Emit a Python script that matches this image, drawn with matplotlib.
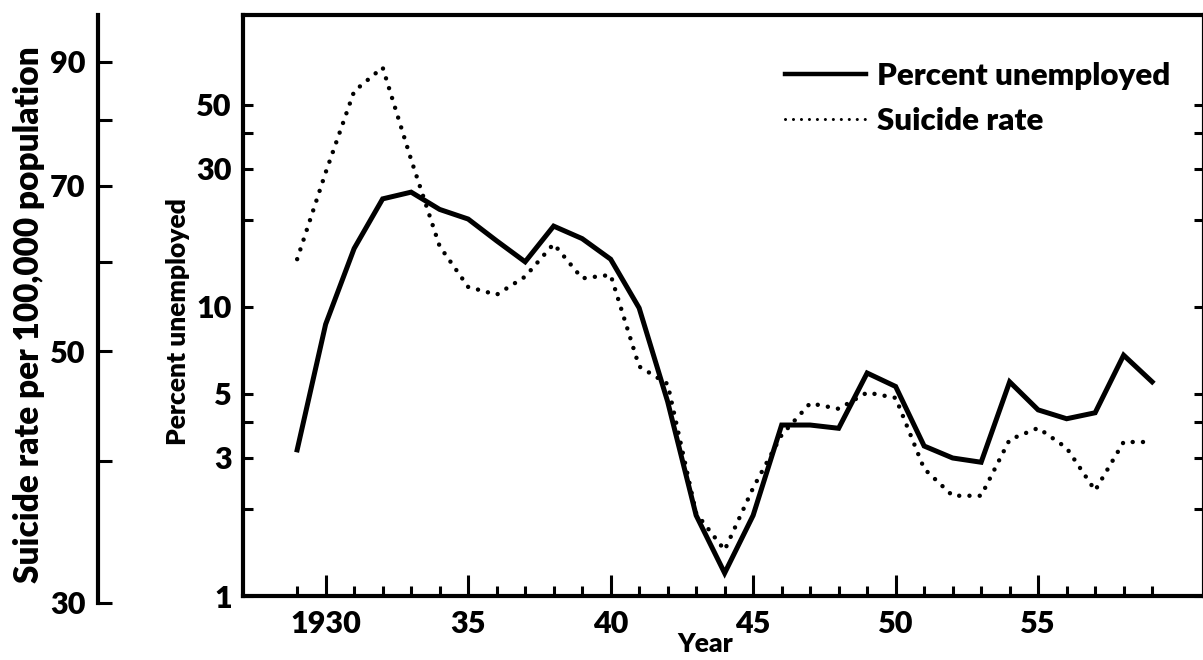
import matplotlib.pyplot as plt
from matplotlib.ticker import FixedLocator, NullFormatter
from matplotlib.lines import Line2D

years = list(range(1929, 1960))
unemployed = [3.2, 8.7, 15.9, 23.6, 24.9, 21.7, 20.1, 16.9, 14.3, 19.0,
              17.2, 14.6, 9.9, 4.7, 1.9, 1.2, 1.9, 3.9, 3.9, 3.8,
              5.9, 5.3, 3.3, 3.0, 2.9, 5.5, 4.4, 4.1, 4.3, 6.8, 5.5]
suicide = [60.3, 71.9, 84.8, 89.0, 73.8, 61.9, 57.0, 56.1, 58.2, 62.2,
           58.0, 58.4, 48.5, 46.8, 36.0, 33.4, 37.9, 42.2, 45.0, 44.5,
           46.0, 45.5, 39.4, 37.3, 37.3, 41.8, 42.8, 41.1, 37.7, 41.6, 41.6]

year_ticks = [1930, 1935, 1940, 1945, 1950, 1955]
year_labels = ['1930', '35', '40', '45', '50', '55']
pct_ticks = [1, 3, 5, 10, 30, 50]
pct_minor = [2, 4, 20, 40]
sui_ticks = [30, 50, 70, 90]
sui_minor = [40, 60, 80]

plt.rcParams['font.family'] = ['Lato', 'DejaVu Sans']
plt.rcParams['font.weight'] = 'heavy'
plt.rcParams['axes.labelweight'] = 'heavy'

W, H = 1203, 660
fig = plt.figure(figsize=(W / 100, H / 100), dpi=100)

# main axes (percent unemployed), right spine falls just outside the image
left, right, top, bottom = 243, 1204, 15, 596
ax = fig.add_axes([left / W, (H - bottom) / H, (right - left) / W, (bottom - top) / H])
# overlay axes for suicide rate, its left spine pushed out to the far left
sb = 603
ax2 = fig.add_axes([left / W, (H - sb) / H, (right - left) / W, (sb - top) / H])
ax2.patch.set_alpha(0)

xlim = (1927.1, 1960.82)
lw_sp = 3.0
tick_fs = 22

ax.set_xlim(*xlim)
ax.set_yscale('log')
ax.set_ylim(1, 102)
ax.plot(years, unemployed, color='black', lw=3.6, solid_joinstyle='miter')

ax2.set_xlim(*xlim)
ax2.set_yscale('log')
ax2.set_ylim(30, 99)
ax2.plot(years, suicide, color='black', lw=3.2,
         linestyle=(0, (0.01, 2.3)), dash_capstyle='round')

for s in ax.spines.values():
    s.set_linewidth(lw_sp)
ax.set_xticks(year_ticks, labels=year_labels)
ax.xaxis.set_minor_locator(FixedLocator([y for y in years if y not in year_ticks]))
ax.tick_params(axis='x', which='major', direction='in', length=15, width=2.2,
               labelsize=tick_fs, pad=10, top=False)
ax.tick_params(axis='x', which='minor', direction='in', length=7.2, width=2.2, top=False)

ax.set_yticks(pct_ticks, labels=[str(t) for t in pct_ticks])
ax.yaxis.set_minor_locator(FixedLocator(pct_minor))
ax.yaxis.set_minor_formatter(NullFormatter())
ax.tick_params(axis='y', which='both', direction='in', length=7.5, width=2.2,
               labelsize=tick_fs, pad=8, right=True)

ax.set_xlabel('Year', fontsize=19)
ax.xaxis.set_label_coords((705 - left) / (right - left), (bottom - 632) / (bottom - top))
ax.set_ylabel('Percent unemployed', fontsize=19)
ax.yaxis.set_label_coords((190 - left) / (right - left), (bottom - 322) / (bottom - top))

# suicide axis
for k in ['right', 'top', 'bottom']:
    ax2.spines[k].set_visible(False)
ax2.spines['left'].set_position(('outward', (left - 98) * 0.72))
ax2.spines['left'].set_linewidth(lw_sp)
ax2.set_xticks([])
ax2.set_yticks(sui_ticks, labels=[str(t) for t in sui_ticks])
ax2.yaxis.set_minor_locator(FixedLocator(sui_minor))
ax2.yaxis.set_minor_formatter(NullFormatter())
ax2.tick_params(axis='y', which='both', direction='in', length=10, width=2.2,
                labelsize=tick_fs, pad=9)
ax2.set_ylabel('Suicide rate per 100,000 population', fontsize=24)
ax2.yaxis.set_label_coords((45 - left) / (right - left), (sb - 315) / (sb - top))

handles = [Line2D([], [], color='black', lw=3.2),
           Line2D([], [], color='black', lw=2.2, linestyle=(0, (0.01, 2.6)),
                  dash_capstyle='round')]
fig.legend(handles, ['Percent unemployed', 'Suicide rate'], loc='upper left',
           bbox_to_anchor=(785 / W, 1 - 62 / H), frameon=False, fontsize=22.5,
           handlelength=2.6, handletextpad=0.35, labelspacing=0.55,
           borderaxespad=0, borderpad=0)

fig.savefig('out.png', dpi=100)
